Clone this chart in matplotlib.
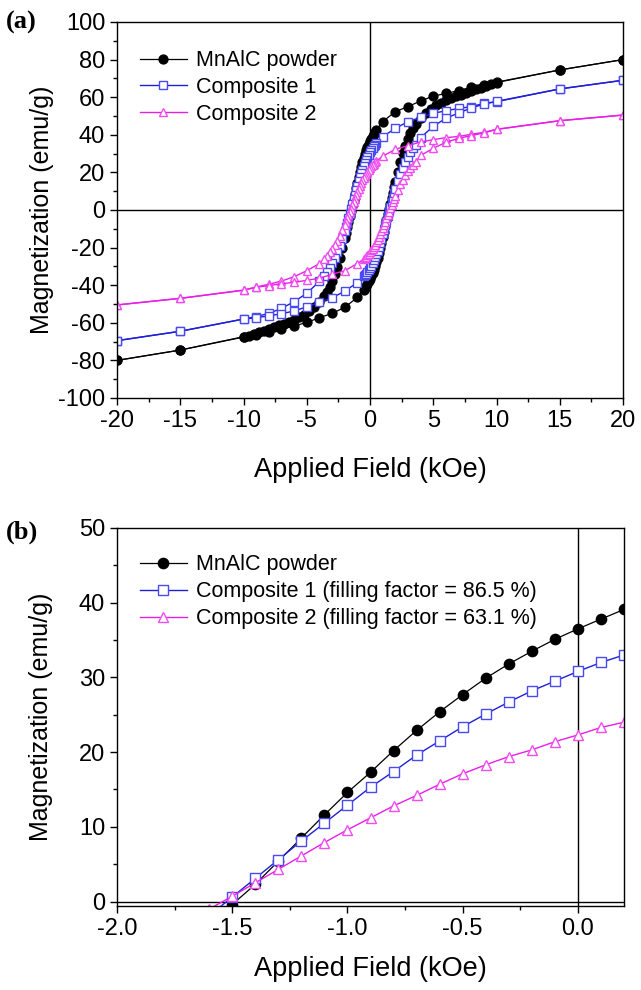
import matplotlib
matplotlib.use("Agg")
import matplotlib.pyplot as plt
from matplotlib.ticker import MultipleLocator, FormatStrFormatter

plt.rcParams['font.family'] = ['Liberation Sans', 'DejaVu Sans']
plt.rcParams['axes.unicode_minus'] = False

# ---------------- data (kOe, emu/g) ----------------
# descending branch (+20 -> -20), dense region near coercive field
H_desc = [20, 15, 10, 9, 8, 7, 6, 5, 4, 3, 2, 1,
          0.5, 0.4, 0.3, 0.2, 0.1, 0.0, -0.1, -0.2, -0.3, -0.4, -0.5, -0.6, -0.7,
          -0.8, -0.9, -1.0, -1.1, -1.2, -1.3, -1.4, -1.5, -1.6, -1.7, -1.8, -1.9, -2.0,
          -2.2, -2.4, -2.6, -2.8, -3.0, -3.2, -3.4, -3.6,
          -4, -5, -6, -7, -8, -9, -10, -15, -20]
H_asc = [-20, -15, -10, -9, -8, -7, -6, -5, -4, -3, -2, -1,
         -0.5, -0.4, -0.3, -0.2, -0.1, 0.0, 0.1, 0.2, 0.3, 0.4, 0.5, 0.6, 0.7,
         0.8, 0.9, 1.0, 1.1, 1.2, 1.3, 1.4, 1.5, 1.6, 1.7, 1.8, 1.9, 2.0,
         2.2, 2.4, 2.6, 2.8, 3.0, 3.2, 3.4, 3.6,
         4, 5, 6, 7, 8, 9, 10, 15, 20]

# MnAlC powder: denser sampling on the far side of the loop
H_desc_mn = [20, 15, 10, 9, 8, 7, 6, 5, 4, 3, 2, 1,
             0.5, 0.4, 0.3, 0.2, 0.1, 0.0, -0.1, -0.2, -0.3, -0.4, -0.5, -0.6, -0.7,
             -0.8, -0.9, -1.0, -1.1, -1.2, -1.3, -1.4, -1.5, -1.6, -1.7, -1.8, -1.9, -2.0,
             -2.2, -2.4, -2.6, -2.8, -3.0, -3.2, -3.4, -3.6,
             -4.0, -4.4, -4.8, -5.2, -5.6, -6.0, -6.4, -6.8, -7.2, -7.6, -8.0, -8.4,
             -8.8, -9.2, -9.6, -10, -15, -20]
M_desc_mn = [80, 74.5, 68, 66.5, 65.3, 63.5, 62, 60.6, 58, 55, 52.3, 47,
             42.6, 41.5, 40.3, 39.1, 37.8, 36.5, 35.1, 33.5, 31.8, 29.9, 27.7, 25.4, 22.9,
             20.2, 17.3, 14.6, 11.6, 8.5, 5.4, 2.3, -0.4, -3.3, -6.2, -9.1, -12.0, -14.8,
             -20.3, -25.5, -30.2, -34.3, -37.9, -41.0, -43.6, -45.8,
             -49.2, -51.8, -53.9, -55.6, -57.0, -58.3, -59.4, -60.4, -61.4, -62.4, -63.3, -64.2,
             -65.1, -66.0, -66.9, -67.6, -74.5, -80]
H_asc_mn = [-20, -15, -10, -9, -8, -7, -6, -5, -4, -3, -2, -1,
            -0.5, -0.4, -0.3, -0.2, -0.1, 0.0, 0.1, 0.2, 0.3, 0.4, 0.5, 0.6, 0.7,
            0.8, 0.9, 1.0, 1.1, 1.2, 1.3, 1.4, 1.5, 1.6, 1.7, 1.8, 1.9, 2.0,
            2.2, 2.4, 2.6, 2.8, 3.0, 3.2, 3.4, 3.6,
            4.0, 4.4, 4.8, 5.2, 5.6, 6.0, 6.4, 6.8, 7.2, 7.6, 8.0, 8.4,
            8.8, 9.2, 9.6, 10, 15, 20]
M_asc_mn = [-80, -74.5, -67.4, -66.5, -65, -63.5, -61.7, -59.8, -57.3, -55, -51.8, -46.5,
            -42.6, -41.5, -40.3, -39.1, -37.8, -36.5, -35.1, -33.5, -31.8, -29.9, -27.7, -25.4, -22.9,
            -20.2, -17.3, -14.6, -11.6, -8.5, -5.4, -2.3, 0.4, 3.3, 6.2, 9.1, 12.0, 14.8,
            20.3, 25.5, 30.2, 34.3, 37.9, 41.0, 43.6, 45.8,
            49.2, 51.8, 53.9, 55.6, 57.0, 58.3, 59.4, 60.4, 61.4, 62.4, 63.3, 64.2,
            65.1, 66.0, 66.9, 67.8, 74.5, 80]

M_desc_c1 = [69, 64.4, 57.6, 56.7, 55, 54, 52.8, 51.4, 49.3, 47, 43.4, 39,
             35.5, 34.8, 34.0, 33.0, 32.0, 30.8, 29.5, 28.2, 26.7, 25.1, 23.4, 21.5, 19.6,
             17.4, 15.3, 12.9, 10.5, 8.1, 5.6, 3.1, 0.6, -1.9, -4.3, -6.7, -9.0, -11.2,
             -15.4, -19.2, -22.6, -25.7, -28.4, -30.8, -33.0, -34.9,
             -38.0, -44.3, -48.8, -52.3, -55, -56.7, -58, -64.5, -69.5]
M_asc_c1 = [-69.5, -64.5, -58, -57.3, -56.3, -55.2, -53.7, -51.5, -49.2, -46.7, -43.2, -38.6,
            -35.3, -34.6, -33.8, -32.9, -31.9, -30.8, -29.6, -28.3, -26.8, -25.2, -23.5, -21.6, -19.6,
            -17.5, -15.3, -13.0, -10.6, -8.2, -5.7, -3.2, -0.7, 1.8, 4.2, 6.6, 8.9, 11.1,
            15.3, 19.1, 22.5, 25.6, 28.3, 30.7, 32.9, 34.8,
            38.5, 44.5, 48.8, 51.6, 54.3, 56.3, 57.8, 64.4, 69]

M_desc_c2 = [50.5, 47.5, 42.9, 41.3, 40.3, 39.1, 38.5, 37.4, 36.2, 34.2, 32.3, 28.6,
             26.0, 25.4, 24.7, 24.0, 23.3, 22.3, 21.4, 20.3, 19.4, 18.3, 17.1, 15.7, 14.2,
             12.8, 11.2, 9.6, 7.9, 6.1, 4.3, 2.5, 0.7, -1.0, -2.8, -4.5, -6.2, -7.8,
             -10.9, -13.7, -16.3, -18.6, -20.7, -22.6, -24.3, -25.8,
             -28.5, -32.3, -35.5, -37.8, -39.5, -41, -42.6, -47, -50.5]
M_asc_c2 = [-50.5, -47, -42.7, -41.1, -40.2, -39.2, -38.5, -37.4, -36.3, -34.2, -32.3, -28.5,
            -26.1, -25.5, -24.8, -24.1, -23.3, -22.4, -21.5, -20.5, -19.5, -18.4, -17.2, -15.8, -14.3,
            -12.9, -11.3, -9.7, -8.0, -6.2, -4.4, -2.6, -0.8, 0.9, 2.7, 4.4, 6.1, 7.7,
            10.8, 13.6, 16.2, 18.5, 20.6, 22.5, 24.2, 25.7,
            29.0, 32.8, 36.0, 38.1, 39.6, 41.0, 42.9, 47.5, 50.5]

labels_a = ["MnAlC powder", "Composite 1", "Composite 2"]
labels_b = ["MnAlC powder", "Composite 1 (filling factor = 86.5 %)",
            "Composite 2 (filling factor = 63.1 %)"]

# ---------------- styles ----------------
sty_mn = dict(color='black', lw=0.9, marker='o', mfc='black', mec='black')
sty_c1 = dict(color='#1f1fd8', lw=1.0, marker='s', mfc='white', mec='#4a4af2', mew=1.0)
sty_c2 = dict(color='#e81ee8', lw=1.0, marker='^', mfc='white', mec='#f04cf0', mew=1.0)

fig = plt.figure(figsize=(6.41, 9.90), dpi=100)
axa = fig.add_axes([117/641, 1-398/990, (623-117)/641, (398-22)/990])
axb = fig.add_axes([117/641, 1-906/990, (624-117)/641, (906-528)/990])

def style_axes(ax):
    for s in ax.spines.values():
        s.set_linewidth(1.0)
    ax.tick_params(which='both', direction='out', top=False, right=False,
                   labelsize=17, width=1.0)
    ax.tick_params(which='major', length=5)
    ax.tick_params(which='minor', length=3)

# ---- panel (a)
axa.axhline(0, color='black', lw=1.0, zorder=1)
axa.axvline(0, color='black', lw=1.0, zorder=1)
ms_a = 6.4
axa.plot(H_desc_mn, M_desc_mn, ms=ms_a, label=labels_a[0], **sty_mn)
axa.plot(H_asc_mn, M_asc_mn, ms=ms_a, **sty_mn)
axa.plot(H_desc, M_desc_c1, ms=ms_a-0.6, label=labels_a[1], **sty_c1)
axa.plot(H_asc, M_asc_c1, ms=ms_a-0.6, **sty_c1)
axa.plot(H_desc, M_desc_c2, ms=ms_a, label=labels_a[2], **sty_c2)
axa.plot(H_asc, M_asc_c2, ms=ms_a, **sty_c2)
axa.set_xlim(-20, 20)
axa.set_ylim(-100, 100)
axa.xaxis.set_major_locator(MultipleLocator(5))
axa.xaxis.set_minor_locator(MultipleLocator(2.5))
axa.yaxis.set_major_locator(MultipleLocator(20))
axa.yaxis.set_minor_locator(MultipleLocator(10))
style_axes(axa)
axa.set_xlabel("Applied Field (kOe)", fontsize=19.5, labelpad=18)
axa.set_ylabel("Magnetization (emu/g)", fontsize=18, labelpad=3)
axa.legend(loc='upper left', bbox_to_anchor=(0.045, 0.925), frameon=False,
           fontsize=15.5, handlelength=2.2, handletextpad=0.4, labelspacing=0.27,
           borderpad=0, borderaxespad=0)

# ---- panel (b)
axb.axhline(0, color='black', lw=1.0, zorder=1)
axb.axvline(0, color='black', lw=1.0, zorder=1)
ms_b = 7.4
axb.plot(H_desc_mn, M_desc_mn, ms=ms_b, label=labels_b[0], **sty_mn)
axb.plot(H_desc, M_desc_c1, ms=ms_b-0.6, label=labels_b[1], **sty_c1)
axb.plot(H_desc, M_desc_c2, ms=ms_b, label=labels_b[2], **sty_c2)
axb.set_xlim(-2.0, 0.2)
axb.set_ylim(-0.6, 50)
axb.xaxis.set_major_locator(MultipleLocator(0.5))
axb.xaxis.set_minor_locator(MultipleLocator(0.25))
axb.xaxis.set_major_formatter(FormatStrFormatter('%.1f'))
axb.yaxis.set_major_locator(MultipleLocator(10))
axb.yaxis.set_minor_locator(MultipleLocator(5))
style_axes(axb)
axb.set_xlabel("Applied Field (kOe)", fontsize=19.5, labelpad=12)
axb.set_ylabel("Magnetization (emu/g)", fontsize=18, labelpad=19)
axb.legend(loc='upper left', bbox_to_anchor=(0.045, 0.93), frameon=False,
           fontsize=15.5, handlelength=2.2, handletextpad=0.4, labelspacing=0.27,
           borderpad=0, borderaxespad=0)

fig.text(6/641, 1-22/990, "(a)", family=['Liberation Serif', 'DejaVu Serif'],
         fontweight='bold', fontsize=19, va='center', ha='left')
fig.text(6/641, 1-532/990, "(b)", family=['Liberation Serif', 'DejaVu Serif'],
         fontweight='bold', fontsize=19, va='center', ha='left')

fig.savefig("out.png", dpi=100)
